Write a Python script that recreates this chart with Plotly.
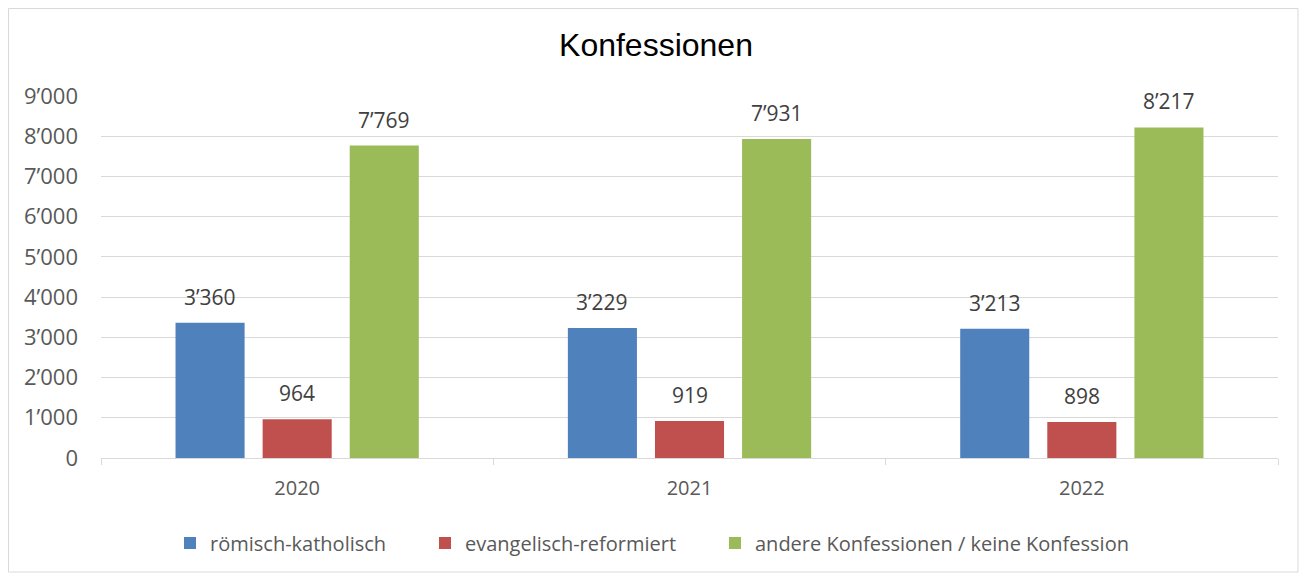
import plotly.graph_objects as go

years = ["2020", "2021", "2022"]
series_names = ["römisch-katholisch", "evangelisch-reformiert", "andere Konfessionen / keine Konfession"]
roemisch = [3360, 3229, 3213]
evangelisch = [964, 919, 898]
andere = [7769, 7931, 8217]
colors = ["#4F81BD", "#C0504D", "#9BBB59"]
tick_vals = [0, 1000, 2000, 3000, 4000, 5000, 6000, 7000, 8000, 9000]
tick_text = ["0", "1’000", "2’000", "3’000", "4’000", "5’000", "6’000", "7’000", "8’000", "9’000"]
legend_widths = [210, 245, 420]


def fmt(v):
    return f"{v:,}".replace(",", "’")


BARGAP = 0.334
BARGROUPGAP = 0.207
all_series = [roemisch, evangelisch, andere]

fig = go.Figure()
for name, vals, col, lw in zip(series_names, all_series, colors, legend_widths):
    fig.add_trace(go.Bar(
        x=years, y=vals, name=name, marker=dict(color=col, line=dict(width=0)),
        legendwidth=lw,
    ))

# data labels above bars, positioned via the category axis
slot = (1 - BARGAP) / len(all_series)
for i, vals in enumerate(all_series):
    for j, v in enumerate(vals):
        fig.add_annotation(
            x=j + (i - (len(all_series) - 1) / 2) * slot, y=v, xref="x", yref="y",
            text=fmt(v), showarrow=False, yanchor="bottom", yshift=10,
            font=dict(family="Open Sans", size=21, color="#404040"),
        )

# page has an 8px body margin; figure coordinates are page minus 8
OFF = 8
W, H = 1307 - OFF, 577 - OFF
L, R, T, B = 101 - OFF, 1278 - OFF, 96 - OFF, 458 - OFF
pw, ph = R - L, B - T

fig.update_layout(
    width=W, height=H,
    margin=dict(l=L, r=W - R, t=T, b=H - B, autoexpand=False),
    paper_bgcolor="white", plot_bgcolor="white",
    barmode="group", bargap=BARGAP, bargroupgap=BARGROUPGAP,
    title=dict(text="Konfessionen", x=(656 - OFF) / W, xanchor="center", y=1 - (45 - OFF) / H, yanchor="middle",
               font=dict(family="Liberation Sans", size=32, color="#000000")),
    font=dict(family="Open Sans", color="#595959"),
    yaxis=dict(range=[0, 9000], tickvals=tick_vals, ticktext=tick_text, showgrid=True,
               gridcolor="#D9D9D9", gridwidth=1, zeroline=False, showline=False,
               tickfont=dict(family="Open Sans", size=22, color="#595959"), ticks="", ticklabelstandoff=22,
               automargin=False),
    xaxis=dict(showline=True, linecolor="#D9D9D9", linewidth=1, ticks="outside", tickson="boundaries",
               ticklen=6, tickcolor="#D9D9D9", tickfont=dict(family="Open Sans", size=20, color="#595959"),
               showgrid=False, automargin=False, ticklabelstandoff=12),
    legend=dict(orientation="h", x=(184 - OFF - 14 - L) / pw, xanchor="left",
                y=(B - (543 - OFF)) / ph, yanchor="middle",
                font=dict(family="Open Sans", size=20, color="#595959"),
                itemwidth=30),
    showlegend=True,
)

fig.add_shape(type="rect", xref="paper", yref="paper",
              x0=(0.5 - L) / pw, x1=(1298 - OFF - L) / pw, y0=(B - (572 - OFF)) / ph, y1=(B - 0.5) / ph,
              line=dict(color="#D9D9D9", width=1), fillcolor="rgba(0,0,0,0)", layer="below")

fig.write_html("out.html")
